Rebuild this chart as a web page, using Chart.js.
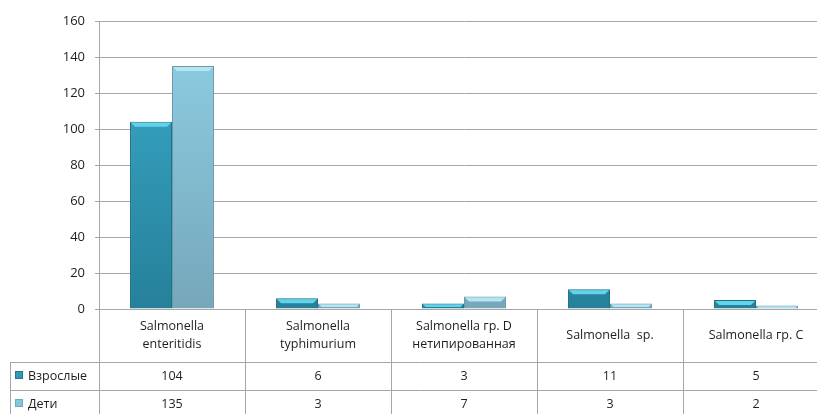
<!DOCTYPE html>
<html>
<head>
<meta charset="utf-8">
<script src="https://cdn.jsdelivr.net/npm/chart.js@4"></script>
<style>
  html, body { margin: 0; padding: 0; background: #fff; overflow: hidden; }
  #wrap { width: 829px; height: 414px; }
</style>
</head>
<body>
<div id="wrap"><canvas id="c"></canvas></div>
<script>
// Salmonella isolates, adults vs children
const categories = [
  ['Salmonella', 'enteritidis'],
  ['Salmonella', 'typhimurium'],
  ['Salmonella гр. D', 'нетипированная'],
  ['Salmonella  sp.'],
  ['Salmonella гр. C'],
];
const seriesNames = ['Взрослые', 'Дети'];
const adults = [104, 6, 3, 11, 5];
const children = [135, 3, 7, 3, 2];
const yTicks = [0, 20, 40, 60, 80, 100, 120, 140, 160];

const FAMILY = '"Open Sans", "Liberation Sans", Arial, sans-serif';
const FONT = '12.5px ' + FAMILY;
const LINE = '#a6a6a6';
const TEXT = '#1e1e1e';

function vGradient(ctx, top, bottom) {
  const area = ctx.chart.chartArea;
  if (!area) return top;
  const g = ctx.chart.ctx.createLinearGradient(0, area.top, 0, area.bottom);
  g.addColorStop(0, top);
  g.addColorStop(1, bottom);
  return g;
}

const swatches = ['#2e9ab6', '#86c6dc'];
const bevels = ['#63d3ec', '#b4e5f3'];

// light bevel strip on top of every bar, like the office 3d look
const barBevel = {
  id: 'barBevel',
  afterDatasetsDraw(chart) {
    const { ctx } = chart;
    ctx.save();
    chart.data.datasets.forEach((ds, di) => {
      chart.getDatasetMeta(di).data.forEach((bar) => {
        const l = bar.x - bar.width / 2 + 1;
        const r = bar.x + bar.width / 2 - 1;
        const t = bar.y + 1;
        const h = Math.min(4, (bar.base - bar.y) / 2);
        if (h <= 0) return;
        ctx.fillStyle = bevels[di];
        ctx.beginPath();
        ctx.moveTo(l, t);
        ctx.lineTo(r, t);
        ctx.lineTo(r - h, t + h);
        ctx.lineTo(l + h, t + h);
        ctx.closePath();
        ctx.fill();
      });
    });
    ctx.restore();
  },
};

// draws the data table under the plot, lined up with the x scale
const dataTable = {
  id: 'dataTable',
  afterDraw(chart) {
    const { ctx, chartArea, scales } = chart;
    const x = scales.x;
    const H = chart.height;
    const left = 10;
    const rowTop = chartArea.bottom;
    const row1 = rowTop + 53;
    const row2 = row1 + 28;
    const row3 = row2 + 28;
    const half = (x.getPixelForValue(1) - x.getPixelForValue(0)) / 2;

    ctx.save();
    ctx.strokeStyle = LINE;
    ctx.lineWidth = 1;
    ctx.beginPath();
    [row1, row2].forEach((y) => {
      ctx.moveTo(left, Math.round(y) + 0.5);
      ctx.lineTo(chart.width, Math.round(y) + 0.5);
    });
    ctx.moveTo(left + 0.5, row1);
    ctx.lineTo(left + 0.5, H);
    categories.forEach((c, i) => {
      const bx = Math.round(x.getPixelForValue(i) + half) + 0.5;
      ctx.moveTo(bx, rowTop);
      ctx.lineTo(bx, H);
    });
    ctx.moveTo(Math.round(chartArea.left) + 0.5, rowTop);
    ctx.lineTo(Math.round(chartArea.left) + 0.5, H);
    ctx.stroke();

    ctx.font = FONT;
    ctx.fillStyle = TEXT;
    ctx.textAlign = 'center';
    ctx.textBaseline = 'middle';
    const midHead = (rowTop + row1) / 2;
    categories.forEach((lines, i) => {
      const cx = x.getPixelForValue(i);
      const lh = 18;
      const y0 = midHead - (lines.length - 1) * lh / 2;
      lines.forEach((t, k) => ctx.fillText(t, cx, y0 + k * lh));
      ctx.fillText(String(adults[i]), cx, (row1 + row2) / 2);
      ctx.fillText(String(children[i]), cx, (row2 + row3) / 2);
    });

    // row headers with legend swatches
    ctx.textAlign = 'left';
    [[row1, row2], [row2, row3]].forEach(([a, b], k) => {
      const my = (a + b) / 2;
      ctx.fillStyle = swatches[k];
      ctx.fillRect(left + 5, my - 5, 8, 8);
      ctx.strokeStyle = k ? '#6fa9bd' : '#1f7891';
      ctx.strokeRect(left + 5.5, my - 4.5, 7, 7);
      ctx.fillStyle = TEXT;
      ctx.fillText(seriesNames[k], left + 18, my);
    });
    ctx.restore();
  },
};

new Chart(document.getElementById('c'), {
  type: 'bar',
  data: {
    labels: categories.map((c) => c.join(' ')),
    datasets: [
      {
        label: seriesNames[0],
        data: adults,
        backgroundColor: (ctx) => vGradient(ctx, '#3aaccb', '#26809a'),
        borderColor: '#1f7188',
        borderWidth: 1,
      },
      {
        label: seriesNames[1],
        data: children,
        backgroundColor: (ctx) => vGradient(ctx, '#8fd0e6', '#76a7ba'),
        borderColor: '#6a9aac',
        borderWidth: 1,
      },
    ],
  },
  options: {
    responsive: true,
    maintainAspectRatio: false,
    animation: false,
    layout: { padding: { top: 21, bottom: 105, left: 0, right: 0 } },
    datasets: { bar: { categoryPercentage: 0.575, barPercentage: 1 } },
    plugins: { legend: { display: false }, tooltip: { enabled: false } },
    scales: {
      x: { display: false },
      y: {
        min: 0,
        max: 160,
        afterBuildTicks: (s) => { s.ticks = yTicks.map((v) => ({ value: v })); },
        afterFit: (s) => { s.width = 99; },
        grid: { color: LINE, tickLength: 4 },
        border: { color: LINE },
        ticks: {
          padding: 10,
          color: TEXT,
          font: { family: FAMILY, size: 13 },
        },
      },
    },
  },
  plugins: [barBevel, dataTable],
});
</script>
</body>
</html>
